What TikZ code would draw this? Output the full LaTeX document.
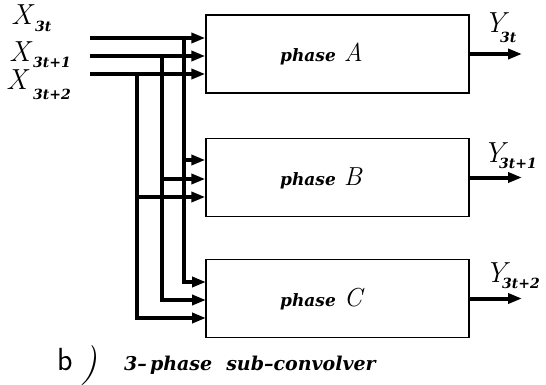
\documentclass[tikz,border=0pt]{standalone}
\usepackage{fontspec}
\usetikzlibrary{arrows.meta}
% heavy slanted lettering used for indices and captions
\newfontfamily\plotfont{DejaVu Serif}
\newcommand\lettering{\plotfont\bfseries\itshape}
\newcommand\idx[1]{{\fontsize{14}{14}\selectfont\lettering #1}}
\begin{document}
\begin{tikzpicture}[x=1pt,y=-1pt,
  stage/.style={draw, line width=1.4pt, minimum width=263pt, minimum height=78pt, inner sep=0pt},
  feed/.style={line width=4pt, line join=miter, -{Triangle[length=14pt,width=10pt]}},
  sym/.style={inner sep=0pt, anchor=base west, font=\fontsize{29}{29}\selectfont\itshape},
  sub/.style={inner sep=0pt, anchor=base west},
  tag/.style={inner sep=0pt, anchor=base west},
  ]
\useasboundingbox (0,0) rectangle (546,385);

% the three phase stages
\node[stage] (A) at (337.5,54) {};
\node[stage] (B) at (337.5,177.5) {};
\node[stage] (C) at (337.5,298.5) {};

\node[tag] (tA) at (280,62) {\fontsize{17}{17}\selectfont\lettering phase\hspace{8pt}\fontsize{26}{26}\selectfont\normalfont\itshape A};
\node[tag] (tB) at (280,185) {\fontsize{17}{17}\selectfont\lettering phase\hspace{8pt}\fontsize{26}{26}\selectfont\normalfont\itshape B};
\node[tag] (tC) at (280,306) {\fontsize{17}{17}\selectfont\lettering phase\hspace{8pt}\fontsize{26}{26}\selectfont\normalfont\itshape C};

% input labels
\node[sym] (x0) at (11,25) {X};
\node[sub] (x0s) at (35,32) {\idx{3t}};
\node[sym] (x1) at (9,62) {X};
\node[sub] (x1s) at (33,68) {\idx{3t+1}};
\node[sym] (x2) at (6,90) {X};
\node[sub] (x2s) at (33,100) {\idx{3t+2}};

% output labels
\node[sym] (y0) at (484,33) {Y};
\node[sub] (y0s) at (500,43) {\idx{3t}};
\node[sym] (y1) at (483,162) {Y};
\node[sub] (y1s) at (499,168) {\idx{3t+1}};
\node[sym] (y2) at (485,282) {Y};
\node[sub] (y2s) at (502,288) {\idx{3t+2}};

% input buses
\coordinate (in0) at (90,38);
\coordinate (in1) at (90,56);
\coordinate (in2) at (90,74);
\coordinate (t0) at (184,38);
\coordinate (t1) at (162,56);
\coordinate (t2) at (137,74);
\coordinate (b0) at (184,160);
\coordinate (b1) at (162,179);
\coordinate (b2) at (137,197);
\coordinate (c0) at (206,282);
\coordinate (c1) at (206,300);
\coordinate (c2) at (206,318);

\draw[feed] (in0) -- (in0 -| A.west);
\draw[feed] (in1) -- (in1 -| A.west);
\draw[feed] (in2) -- (in2 -| A.west);

\draw[feed] (t0) |- (c0);
\draw[feed] (t1) |- (c1);
\draw[feed] (t2) |- (c2);

\draw[feed] (b0) -- (b0 -| B.west);
\draw[feed] (b1) -- (b1 -| B.west);
\draw[feed] (b2) -- (b2 -| B.west);

% outputs
\coordinate (o0) at (522,54);
\coordinate (o1) at (522,177.5);
\coordinate (o2) at (522,298.5);
\draw[feed] (A.east) -- (o0);
\draw[feed] (B.east) -- (o1);
\draw[feed] (C.east) -- (o2);

% caption
\node[tag] (cb) at (57,370) {\fontsize{32}{32}\selectfont\sffamily b};
\node[tag] (cp) at (81,375) {\fontsize{40}{40}\selectfont\itshape )};
\node[tag] (ct) at (124,370) {\fontsize{19}{19}\selectfont\lettering 3–\,phase\hspace{14pt}sub–convolver};
\end{tikzpicture}
\end{document}
